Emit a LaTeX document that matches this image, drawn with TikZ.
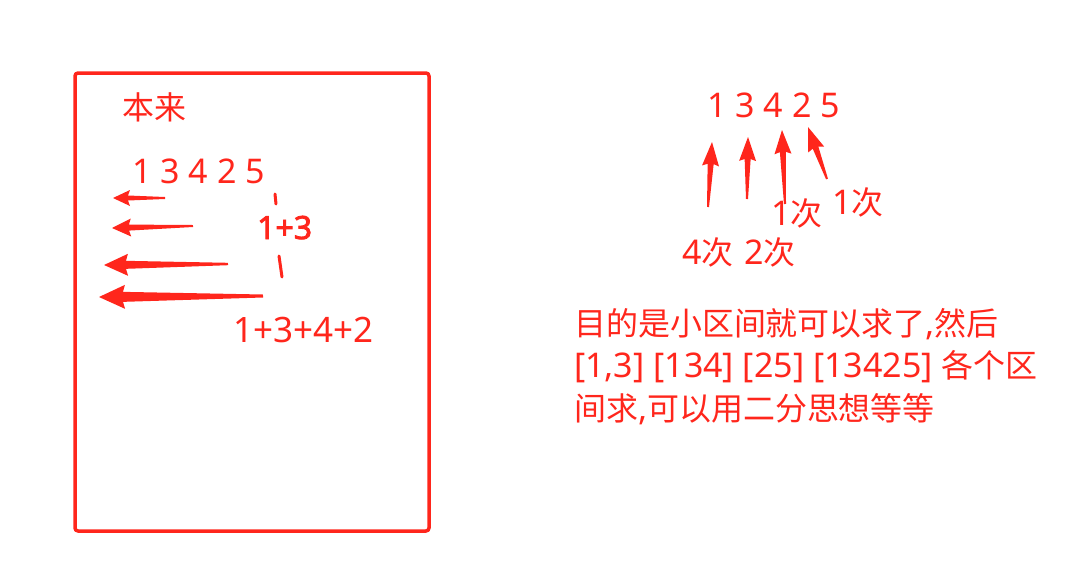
\documentclass[tikz,border=0pt]{standalone}
\usepackage{fontspec}
\setmainfont{Noto Sans}
\newfontfamily\cjk[Scale=0.94]{Noto Sans CJK SC}
\newfontfamily\handfont[FakeBold=2.5]{Noto Sans}
\usetikzlibrary{calc}
\definecolor{ink}{RGB}{255,38,28}
\tikzset{
  txt/.style={text=ink, inner sep=0pt, anchor=base west, font=\fontsize{34}{45}\selectfont},
  hand/.style={draw=ink, line width=3.5pt, line cap=round, line join=round},
}
% tapered arrow: #1 tail, #2 tip, #3 head length, #4 head half width, #5 shaft half width at head, #6 shaft half width at tail
\newcommand{\tarrow}[6]{%
  \fill[ink] ($(#1)!#6!90:(#2)$) -- ($($(#2)!#3!(#1)$)!#5!-90:(#1)$)
    -- ($($(#2)!#3+2pt!(#1)$)!#4!-90:(#1)$) -- (#2)
    -- ($($(#2)!#3+2pt!(#1)$)!#4!90:(#1)$) -- ($($(#2)!#3!(#1)$)!#5!90:(#1)$)
    -- ($(#1)!#6!-90:(#2)$) -- cycle;}
\begin{document}
\begin{tikzpicture}[x=1pt,y=-1pt]
\useasboundingbox (0,0) rectangle (1072,579);
% frame
\draw[hand, rounded corners=3pt] (75,73) -- (429,73) -- (429,531) -- (75,531) -- cycle;
% left texts
\node[txt] (benlai) at (122,119) {\cjk 本来};
\node[txt] (seqL) at (132,183) {1 3 4 2 5};
\node[txt, font=\fontsize{35}{45}\selectfont] (sum) at (233,342) {1+3+4+2};
\node[txt, font=\fontsize{32}{34}\handfont] (onethree) at (257,239) {1+3};
\coordinate (tk1a) at (275,194); \coordinate (tk1b) at (276,204);
\coordinate (tk2a) at (279,256); \coordinate (tk2b) at (282,277);
\draw[hand, line width=3pt] (tk1a) -- (tk1b);
\draw[hand, line width=3pt] (tk2a) -- (tk2b);
% left arrows
\coordinate (la1t) at (165,198); \coordinate (la1h) at (113,198);
\coordinate (la2t) at (193,226); \coordinate (la2h) at (112,228);
\coordinate (la3t) at (228,264); \coordinate (la3h) at (104,265);
\coordinate (la4t) at (263,296); \coordinate (la4h) at (99,297);
\tarrow{la1t}{la1h}{15pt}{8pt}{2.5pt}{1pt}
\tarrow{la2t}{la2h}{17pt}{9pt}{3pt}{1pt}
\tarrow{la3t}{la3h}{22pt}{11pt}{4pt}{1.2pt}
\tarrow{la4t}{la4h}{24pt}{12pt}{5pt}{1.5pt}
% right sequence
\node[txt] (seqR) at (707,117) {1 3 4 2 5};
\coordinate (ra1t) at (708,207); \coordinate (ra1h) at (712,142);
\coordinate (ra2t) at (747,199); \coordinate (ra2h) at (748,137);
\coordinate (ra3t) at (785,204); \coordinate (ra3h) at (782,130);
\coordinate (ra4t) at (827,179); \coordinate (ra4h) at (808,127);
\tarrow{ra1t}{ra1h}{22pt}{8.5pt}{3pt}{1pt}
\tarrow{ra2t}{ra2h}{22pt}{8.5pt}{3pt}{1pt}
\tarrow{ra3t}{ra3h}{22pt}{8.5pt}{3pt}{1pt}
\tarrow{ra4t}{ra4h}{22pt}{8.5pt}{3pt}{1pt}
\node[txt] (c1a) at (771,225) {1\cjk 次};
\node[txt] (c1b) at (832,214) {1\cjk 次};
\node[txt] (c4) at (682,264) {4\cjk 次};
\node[txt] (c2) at (744,264) {2\cjk 次};
% paragraph
\node[txt] (p1) at (574,335) {{\cjk 目的是小区间就可以求了},{\cjk 然后}};
\node[txt] (p2) at (574,377) {[1,3] [134] [25] [13425] {\cjk 各个区}};
\node[txt] (p3) at (574,420) {{\cjk 间求},{\cjk 可以用二分思想等等}};
\end{tikzpicture}
\end{document}
